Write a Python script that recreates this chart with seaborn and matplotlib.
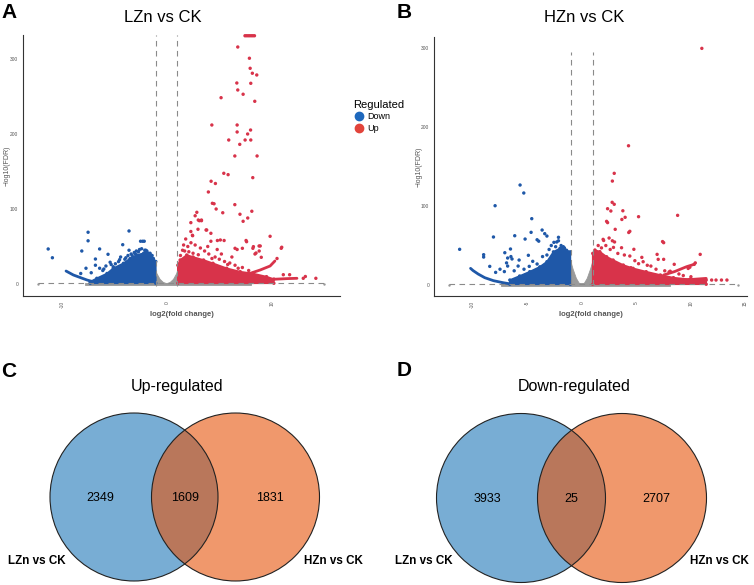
import numpy as np
import pandas as pd
import matplotlib
matplotlib.use('Agg')
import matplotlib.pyplot as plt
from matplotlib.patches import Circle
from matplotlib.lines import Line2D
import seaborn as sns

# ---------------- data ----------------
# Panel A  (LZn vs CK) : sparse significant genes
a_down_x = [-11.3, -10.9, -7.5, -7.5, -8.1, -6.4, -5.6, -3.6, -4.2, -2.5, -2.3, -2.15, -3.6, -6.8, -7.7,
            -6.8, -6.4, -4.6, -5.4, -5.1, -4.5, -3.0, -2.7, -2.4, -2.1, -1.9, -3.3, -3.9, -4.9, -5.8,
            -6.1, -7.2, -8.2, -3.1, -2.6, -4.0, -1.6, -1.4, -4.4, -3.7, -5.3, -6.0, -2.9, -3.4]
a_down_y = [46.7, 35, 69, 57.6, 44, 46.7, 39.6, 70.7, 52.4, 57, 57, 57, 45, 33.3, 21,
            25, 21, 29.8, 29, 23, 32.4, 40, 43, 47, 45, 44, 38, 35, 27, 24,
            18, 15, 14, 42, 46, 33, 41, 38, 36, 38, 26, 20, 44, 40]
a_up_x = [6.76, 7.87, 7.94, 8.15, 8.57, 6.67, 8.0, 6.76, 7.27, 5.17, 8.38, 4.29, 6.7, 6.7, 7.98,
          7.7, 7.46, 5.9, 8.0, 6.95, 6.48, 8.6, 5.43, 5.84, 8.19, 4.22, 4.63, 3.96, 4.34, 4.5,
          4.7, 5.33, 6.48, 6.97, 7.71, 8.1, 7.27, 2.86, 3.0, 3.3, 2.29, 3.74, 2.97, 2.29, 2.46,
          4.2, 4.82, 5.46, 7.55, 6.7, 7.2, 8.2, 8.79, 8.4, 9.0, 9.84, 10.9, 10.95, 10.5, 13.0,
          13.2, 14.2, 11.7, 11.1, 7.45, 7.6, 7.75, 7.9, 8.05, 8.2, 8.35,
          1.5, 2.0, 2.3, 3.2, 3.6, 4.0, 4.6, 5.0, 5.5, 6.0, 6.5, 7.2, 1.8, 2.7, 3.9, 5.2, 6.2,
          4.8, 1.6, 2.1, 2.7, 3.1, 3.3, 3.8, 2.44, 5.1, 7.6, 4.2, 6.5, 8.25, 8.9, 8.8, 8.5,
          1.3, 1.7, 2.5, 3.0, 4.3, 5.8, 6.8, 7.8]
a_up_y = [316, 301, 287.6, 281, 278.7, 268, 267.6, 258.7, 253, 248.4, 243.6, 212, 212, 202.7, 205.3,
          200, 192, 192, 192, 186.2, 170.7, 170.7, 147.6, 145.8, 141.8, 137, 134, 122.7, 107.6, 107,
          100, 95, 105.8, 93, 88, 97, 83.6, 95.6, 85.3, 85.3, 81.8, 72, 73, 70, 64.4,
          67.6, 58, 58, 58, 46, 47.6, 47.6, 50.7, 40, 35.6, 63.6, 47.6, 49, 34, 7.6,
          10, 7.6, 12.4, 12.4, 331, 331, 331, 331, 331, 331, 331,
          45, 50, 55, 48, 44, 40, 36, 33, 30, 28, 25, 22, 60, 52, 50, 40, 36,
          46, 52, 43, 91, 84.4, 84.4, 72, 65, 58.7, 56.4, 57, 47.6, 49.8, 50.7, 44, 41.3,
          38, 44, 41, 39, 34, 26, 21, 18]
# dense clouds of panel A (outline of the packed points)
a_down_core_x = [-7.3, -7.3, -6.67, -5.7, -5.1, -4.13, -3.5, -2.86, -2.2, -2.0, -1.6, -1.28, -1.05, -1.05]
a_down_core_y = [1.0, 3.0, 7.6, 14, 21, 27.6, 34, 38.7, 41, 45, 40, 34, 30, 1.0]
a_up_core_x = [1.05, 1.05, 1.27, 1.9, 2.5, 3.5, 4.4, 5.7, 7.0, 8.2, 9.5, 10.2, 10.2]
a_up_core_y = [1.0, 25, 32, 38.7, 36, 32, 27.6, 21, 16.4, 14, 9.8, 6.5, 1.0]
a_down_arm_x = [-9.6, -8.9, -8.2, -7.6, -7.0]
a_down_arm_y = [17.3, 12, 8.4, 5.3, 3]
a_up_arm1_x = [7.0, 8.5, 10.0, 11.5, 12.4]
a_up_arm1_y = [4.0, 5.0, 6.2, 7.2, 7.6]
a_up_arm2_x = [7.0, 8.9, 9.84, 10.3]
a_up_arm2_y = [9.8, 18.7, 24, 30.7]
a_ns_v_x = [-1.3, -1.3, -1.1, -0.95, -0.64, -0.32, 0, 0.32, 0.64, 0.95, 1.1, 1.3, 1.3]
a_ns_v_y = [0, 22, 21, 14, 6.2, 2, 0.5, 2, 6.2, 14, 21, 22, 0]
a_ns_band_x = [-7.8, -7.8, 8.0, 8.0]
a_ns_band_y = [-1.5, 2.0, 2.0, -1.5]

# Panel B  (HZn vs CK)
b_down_x = [-5.66, -5.32, -7.95, -4.59, -8.1, -4.65, -5.2, -6.15, -3.64, -3.4, -3.2, -4.1, -3.95, -11.2,
            -9.0, -8.44, -7.06, -6.54, -2.14, -2.14, -2.56, -2.3, -4.9, -3.6, -3.2, -6.8, -6.4, -6.5,
            -5.75, -5.84, -4.82, -4.1, -6.9, -6.8, -7.5, -7.9, -7.1, -9.0, -2.8, -2.4, -3.0, -4.5,
            -5.3, -6.2, -1.9, -1.6]
b_down_y = [126.6, 116.5, 100.4, 84, 60.8, 66.7, 58.2, 62.4, 69.6, 65, 62, 57.3, 55.5, 45.2,
            35.4, 23.6, 40.9, 45.6, 60.4, 56, 54, 54.5, 37.6, 36, 38, 34.2, 33, 36,
            31.6, 24, 23.6, 26.6, 28, 24, 20, 16, 17, 38.4, 50, 48.5, 45, 30,
            20, 18, 50, 47]
b_up_x = [11.0, 4.28, 2.97, 2.8, 2.78, 2.97, 2.36, 2.66, 3.76, 2.27, 2.36, 3.67, 3.97, 5.2, 8.78,
          3.06, 4.4, 4.3, 1.95, 2.0, 2.5, 2.8, 3.0, 7.4, 7.5, 4.77, 3.64, 2.9, 6.9, 7.0, 7.5,
          10.85, 10.3, 10.4, 9.75, 9.9, 8.47, 6.33, 5.62, 4.86, 4.4, 4.5, 8.1, 8.0, 11.9, 12.3,
          12.8, 13.3, 2.2, 1.5, 1.8, 3.3, 2.6, 5.5, 6.0, 3.9, 5.2, 6.8, 7.6, 8.9, 9.3, 10.0]
b_up_y = [299.6, 176.3, 141.4, 131.6, 104.7, 102.2, 96.6, 93.7, 94, 80.6, 79, 83, 85.7, 86.5, 88.2,
          70.5, 68, 66.5, 57.8, 56.4, 59.5, 56, 54.5, 55, 53.6, 45.2, 47.2, 47.6, 38.8, 32.5, 32.5,
          38.8, 26.2, 28, 21, 22.5, 26.2, 24, 29.5, 30.8, 36.7, 21.9, 17.5, 16.5, 6.3, 6.3,
          6.3, 6.3, 50, 50, 47, 40, 45, 35, 25, 38, 27, 20, 18, 14, 12, 10.5]
b_down_core_x = [-6.6, -6.6, -5.7, -4.77, -3.85, -3.2, -2.6, -2.0, -1.7, -1.4, -1.05, -1.05]
b_down_core_y = [1.0, 6.3, 11.4, 16.9, 23, 29.5, 42, 46.4, 48.5, 44, 42, 1.0]
b_up_core_x = [1.0, 1.0, 1.2, 1.65, 2.27, 2.87, 3.8, 4.7, 5.9, 7.2, 8.4, 9.9, 11.4, 11.4]
b_up_core_y = [1.0, 40, 44.3, 42.2, 35.8, 31.6, 25.3, 21.1, 16.9, 12.7, 9.3, 7.2, 6.3, 1.0]
b_down_arm_x = [-10.2, -9.97, -9.5, -8.9, -8.1, -7.2, -6.6]
b_down_arm_y = [21.1, 18.3, 13.9, 9.3, 5.5, 2.9, 1.5]
b_up_arm1_x = [6.85, 9.0, 11.4]
b_up_arm1_y = [4.2, 6.0, 8.4]
b_up_arm2_x = [7.5, 8.5, 9.6, 10.3]
b_up_arm2_y = [12.7, 17, 23.2, 26.2]
b_ns_v_x = [-1.3, -1.3, -1.0, -0.8, -0.5, -0.25, 0, 0.25, 0.5, 0.8, 1.0, 1.3, 1.3]
b_ns_v_y = [0, 31, 29.5, 20, 8.4, 2.5, 0.5, 2.5, 8.4, 20, 29.5, 31, 0]
b_ns_band_x = [-7.4, -7.4, 8.1, 8.1]
b_ns_band_y = [-1.5, 2.0, 2.0, -1.5]

# Venn counts: [LZn only, both, HZn only]
up_counts = [2349, 1609, 1831]
down_counts = [3933, 25, 2707]
set_names = ['LZn vs CK', 'HZn vs CK']

BLUE = '#1f58a8'
RED = '#d8334a'
GRAY = '#9a9a9a'

sns.set_style('white')
plt.rcParams['font.family'] = ['Liberation Sans', 'DejaVu Sans']
plt.rcParams['text.color'] = 'black'

W, H = 754, 585
fig = plt.figure(figsize=(W / 100, H / 100), dpi=100)


def fx(x):
    return x / W


def fy(y):
    return 1 - y / H


def volcano(rect_px, xlim, ylim, xticks, d, title, title_xy, hline_x, vline_top, ylab_x):
    left, top, right, bottom = rect_px
    ax = fig.add_axes([fx(left), fy(bottom), fx(right - left), (bottom - top) / H])
    ax.fill(d['ns_band_x'], d['ns_band_y'], color=GRAY, lw=0.6, ec=GRAY)
    ax.fill(d['ns_v_x'], d['ns_v_y'], color=GRAY, lw=0.6, ec=GRAY)
    ax.fill(d['down_core_x'], d['down_core_y'], color=BLUE, lw=1.2, ec=BLUE)
    ax.fill(d['up_core_x'], d['up_core_y'], color=RED, lw=1.2, ec=RED)
    ax.plot(d['down_arm_x'], d['down_arm_y'], color=BLUE, lw=2.0, solid_capstyle='round')
    ax.plot(d['up_arm1_x'], d['up_arm1_y'], color=RED, lw=2.0, solid_capstyle='round')
    ax.plot(d['up_arm2_x'], d['up_arm2_y'], color=RED, lw=2.0, solid_capstyle='round')
    df = pd.DataFrame({
        'log2FC': d['down_x'] + d['up_x'] + d['down_core_x'] + d['up_core_x'],
        'FDR': d['down_y'] + d['up_y'] + d['down_core_y'] + d['up_core_y'],
        'Regulated': ['Down'] * len(d['down_x']) + ['Up'] * len(d['up_x'])
                     + ['Down'] * len(d['down_core_x']) + ['Up'] * len(d['up_core_x']),
    })
    sns.scatterplot(data=df, x='log2FC', y='FDR', hue='Regulated',
                    palette={'Down': BLUE, 'Up': RED}, s=6, linewidth=0,
                    legend=False, ax=ax, clip_on=False)
    dash = (0, (5, 4))
    ax.vlines([-1, 1], ylim[0] + 14, vline_top, colors='#8a8a8a', lw=0.8, linestyles=dash)
    ax.hlines(1.3, hline_x[0], hline_x[1], colors='#8a8a8a', lw=0.8, linestyles=dash)
    ax.scatter(hline_x, [0.5, 0.5], s=3, color=GRAY, lw=0)
    ax.set_xlim(xlim)
    ax.set_ylim(ylim)
    ax.set_xticks(xticks)
    ax.set_xticklabels([str(t) for t in xticks], rotation=90)
    ax.set_yticks([0, 100, 200, 300])
    ax.tick_params(axis='both', labelsize=3.5, colors='#555555', length=2, width=0.5, pad=1.5)
    ax.set_xlabel('log2(fold change)', fontsize=5.5, fontweight='bold', color='#555555', labelpad=2)
    ax.set_ylabel('\u2212log10(FDR)', fontsize=5, color='#555555')
    ax.yaxis.set_label_coords((ylab_x - left) / (right - left), 0.5)
    sns.despine(ax=ax)
    for s in ['left', 'bottom']:
        ax.spines[s].set_color('#333333')
        ax.spines[s].set_linewidth(0.8)
    fig.text(fx(title_xy[0]), fy(title_xy[1]), title, ha='center', va='center', fontsize=12)
    return ax


data_a = dict(down_x=a_down_x, down_y=a_down_y, up_x=a_up_x, up_y=a_up_y,
              down_core_x=a_down_core_x, down_core_y=a_down_core_y,
              up_core_x=a_up_core_x, up_core_y=a_up_core_y,
              down_arm_x=a_down_arm_x, down_arm_y=a_down_arm_y,
              up_arm1_x=a_up_arm1_x, up_arm1_y=a_up_arm1_y,
              up_arm2_x=a_up_arm2_x, up_arm2_y=a_up_arm2_y,
              ns_v_x=a_ns_v_x, ns_v_y=a_ns_v_y, ns_band_x=a_ns_band_x, ns_band_y=a_ns_band_y)
data_b = dict(down_x=b_down_x, down_y=b_down_y, up_x=b_up_x, up_y=b_up_y,
              down_core_x=b_down_core_x, down_core_y=b_down_core_y,
              up_core_x=b_up_core_x, up_core_y=b_up_core_y,
              down_arm_x=b_down_arm_x, down_arm_y=b_down_arm_y,
              up_arm1_x=b_up_arm1_x, up_arm1_y=b_up_arm1_y,
              up_arm2_x=b_up_arm2_x, up_arm2_y=b_up_arm2_y,
              ns_v_x=b_ns_v_x, ns_v_y=b_ns_v_y, ns_band_x=b_ns_band_x, ns_band_y=b_ns_band_y)

volcano((23, 35, 340, 296), (-13.7, 16.5), (-16, 332), [-10, 0, 10], data_a,
        'LZn vs CK', (162.5, 17), (-12.3, 15.0), 332, 11)
volcano((434, 37, 747, 296), (-13.55, 15.14), (-13.9, 314), [-10, -5, 0, 5, 10, 15], data_b,
        'HZn vs CK', (584, 17.5), (-12.2, 14.3), 295, 423)

# legend between the two volcano plots
handles = [Line2D([], [], marker='o', ls='', color='#1e68bd', markersize=6),
           Line2D([], [], marker='o', ls='', color='#e2443b', markersize=6)]
leg = fig.legend(handles, ['Down', 'Up'], title='Regulated', loc='upper left',
                 bbox_to_anchor=(fx(349), fy(95)), frameon=False, fontsize=6.5,
                 title_fontsize=8, handletextpad=0.3, labelspacing=0.3,
                 borderpad=0, handlelength=1.2, alignment='left')

# Venn diagrams
vax = fig.add_axes([0, 0, 1, 1], zorder=-1)
vax.set_xlim(0, W)
vax.set_ylim(H, 0)
vax.axis('off')


def venn(cx_left, cx_right, cy, r, counts, title, title_x):
    vax.add_patch(Circle((cx_left, cy), r, facecolor='#78add4', edgecolor='none'))
    vax.add_patch(Circle((cx_right, cy), r, facecolor='#e6530a', alpha=0.6, edgecolor='none'))
    for cx in (cx_left, cx_right):
        vax.add_patch(Circle((cx, cy), r, facecolor='none', edgecolor='#222222', lw=0.8))
    mid = (cx_left + cx_right) / 2
    for x, n in zip([cx_left - 34, mid, cx_right + 34], counts):
        vax.text(x, cy + 1, str(n), ha='center', va='center', fontsize=9, color='black')
    vax.text(cx_left - 97.5, 561, set_names[0], ha='center', va='center', fontsize=8.4,
             fontweight='bold', color='black')
    vax.text(cx_right + 97.5, 561, set_names[1], ha='center', va='center', fontsize=8.4,
             fontweight='bold', color='black')
    vax.text(title_x, 387, title, ha='center', va='center', fontsize=11.5, color='black')


venn(134, 235.5, 497, 84, up_counts, 'Up-regulated', 176.7)
venn(521, 622, 498, 84.5, down_counts, 'Down-regulated', 574.3)

for letter, x, y in [('A', 9, 12.5), ('B', 403.7, 12), ('C', 9, 371.7), ('D', 404, 370)]:
    fig.text(fx(x), fy(y), letter, ha='center', va='center', fontsize=15, fontweight='bold',
             color='black')

fig.savefig('out.png', dpi=100)
